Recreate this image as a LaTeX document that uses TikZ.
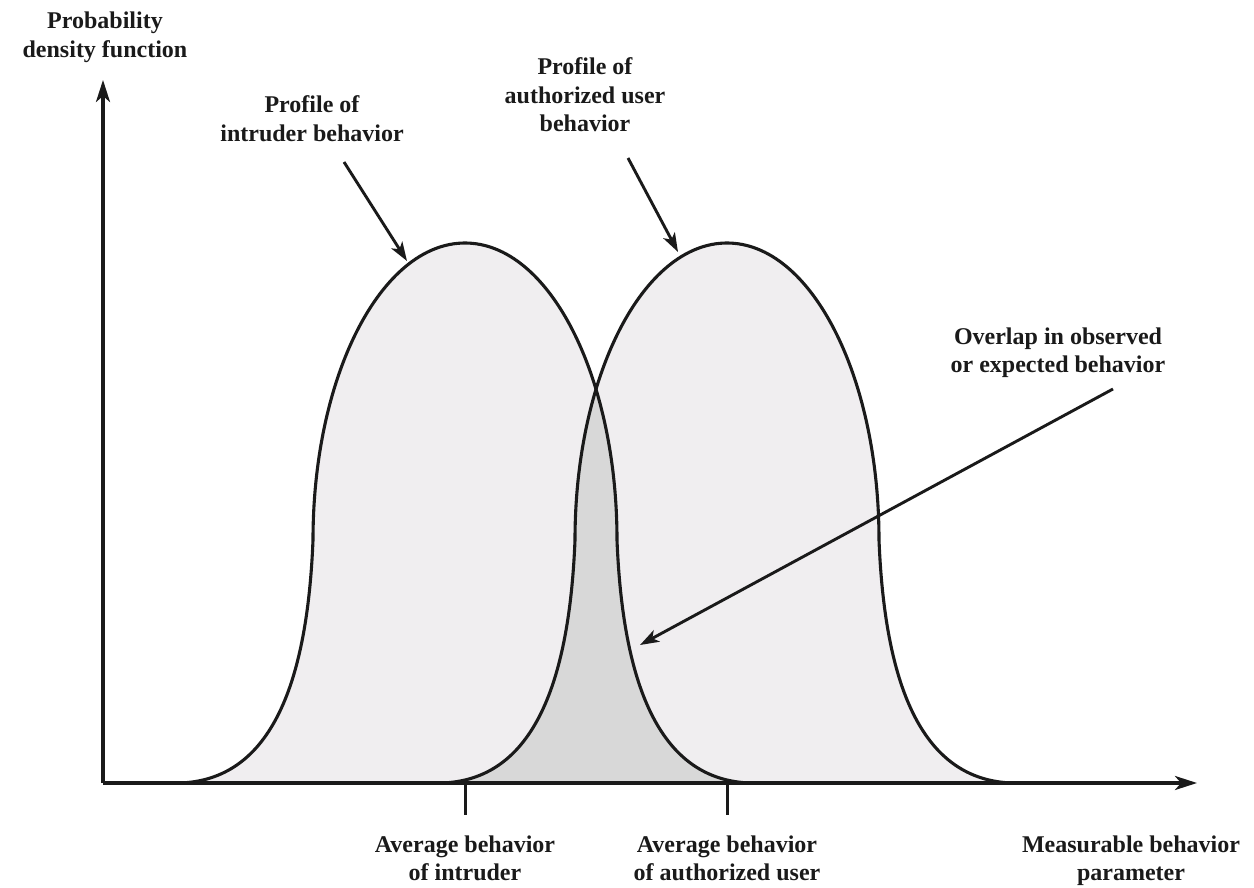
\documentclass[tikz,border=0pt]{standalone}
\usepackage{fontspec}
\setmainfont{Liberation Serif}
\usetikzlibrary{arrows.meta}

\definecolor{bellfill}{RGB}{240,238,240}
\definecolor{overlapfill}{RGB}{216,216,216}
\definecolor{ink}{RGB}{26,26,26}

% One bell-shaped profile centred at x = #1 (baseline y = 783, peak y = 243)
\newcommand\bellcurve[1]{({#1-285},783) .. controls ({#1-197},780) and ({#1-158},690) .. ({#1-152},540)
  .. controls ({#1-152},376) and ({#1-84},243) .. (#1,243)
  .. controls ({#1+84},243) and ({#1+152},376) .. ({#1+152},540)
  .. controls ({#1+158},690) and ({#1+197},780) .. ({#1+285},783)}

\tikzset{
  % labels are placed by the baseline of their last line
  lbl/.style={font=\fontsize{24}{28.5}\selectfont\bfseries, align=center, anchor=base,
              inner sep=0pt, text=ink},
  axisline/.style={line width=3.3pt, draw=ink, -{Stealth[length=22pt,width=14pt,inset=6pt]}},
  curveline/.style={line width=3.1pt, draw=ink},
  pointer/.style={line width=2.9pt, draw=ink, -{Stealth[length=19pt,width=13pt,inset=5pt]}},
  tickline/.style={line width=3pt, draw=ink},
}

\begin{document}
\begin{tikzpicture}[x=1pt, y=-1pt]
  \useasboundingbox (0,0) rectangle (1254,888);

  % filled profiles
  \fill[bellfill] \bellcurve{465} -- cycle;
  \fill[bellfill] \bellcurve{727} -- cycle;
  % overlap region
  \begin{scope}
    \clip \bellcurve{465} -- cycle;
    \fill[overlapfill] \bellcurve{727} -- cycle;
  \end{scope}
  % outlines
  \draw[curveline] \bellcurve{465};
  \draw[curveline] \bellcurve{727};

  % axes
  \coordinate (O) at (103,783);
  \coordinate (ytip) at (103,80);
  \coordinate (xtip) at (1197,783);
  \draw[axisline] (O) -- (ytip);
  \draw[axisline] (O) -- (xtip);

  % ticks at the two averages
  \coordinate (avgI) at (465,783);
  \coordinate (avgIend) at (465,815);
  \coordinate (avgA) at (727,783);
  \coordinate (avgAend) at (727,815);
  \draw[tickline] (avgI) -- (avgIend);
  \draw[tickline] (avgA) -- (avgAend);

  % labels
  \node[lbl] (ylabel) at (105,57.5) {Probability\\density function};
  \node[lbl] (intruder) at (312,141.5) {Profile of\\intruder behavior};
  \node[lbl] (authorized) at (585,132) {Profile of\\authorized user\\behavior};
  \node[lbl] (overlap) at (1058,372.5) {Overlap in observed\\or expected behavior};
  \node[lbl] (avgIlbl) at (465,880.5) {Average behavior\\of intruder};
  \node[lbl] (avgAlbl) at (727,880.5) {Average behavior\\of authorized user};
  \node[lbl] (xlabel) at (1131,880.5) {Measurable behavior\\parameter};

  % pointers
  \coordinate (pIstart) at (344,162);
  \coordinate (pItip) at (407,261);
  \coordinate (pAstart) at (628,158);
  \coordinate (pAtip) at (678,252);
  \coordinate (pOstart) at (1113,389);
  \coordinate (pOtip) at (640,645);
  \draw[pointer] (pIstart) -- (pItip);
  \draw[pointer] (pAstart) -- (pAtip);
  \draw[pointer] (pOstart) -- (pOtip);
\end{tikzpicture}
\end{document}
